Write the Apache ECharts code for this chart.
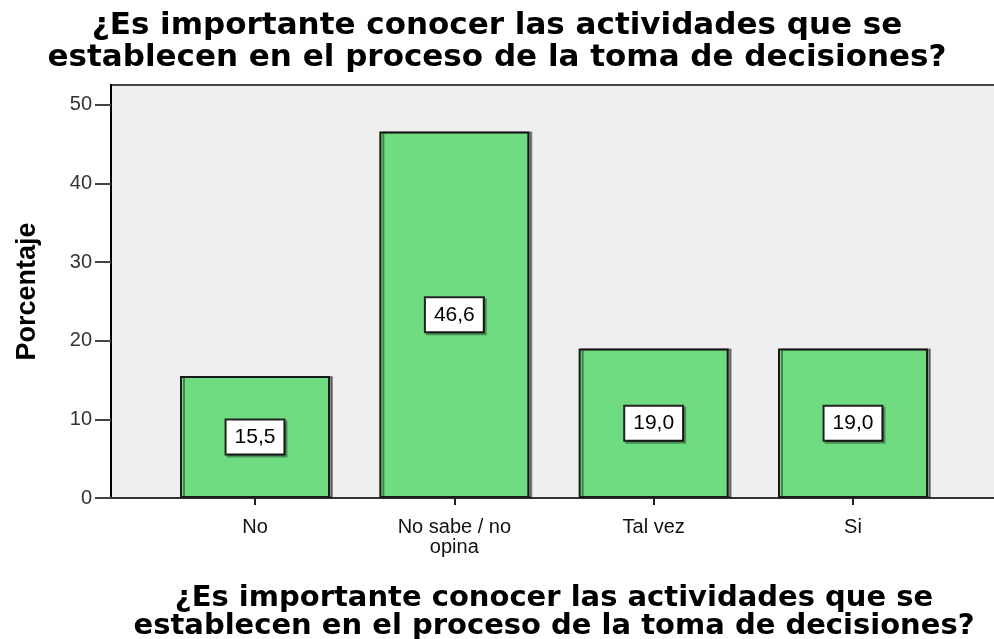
<!DOCTYPE html>
<html>
<head>
<meta charset="utf-8">
<title>Porcentaje</title>
<script src="https://cdn.jsdelivr.net/npm/echarts@6/dist/echarts.min.js"></script>
<style>
	html, body { margin: 0; padding: 0; background: #fff; }
	#barChart { width: 994px; height: 639px; }
</style>
</head>
<body>
<div id="barChart"></div>
<script>
//categorias del eje x
var categorias = ['No', 'No sabe / no opina', 'Tal vez', 'Si'];
//etiquetas del eje x (con salto de linea)
var etiquetasX = ['No', 'No sabe / no\nopina', 'Tal vez', 'Si'];
//porcentajes
var porcentajes = [15.5, 46.6, 19.0, 19.0];
//marcas del eje y
var marcasY = [0, 10, 20, 30, 40, 50];
//posiciones de las categorias
var posicionesX = [0, 1, 2, 3];

var tituloTexto = '¿Es importante conocer las actividades que se\nestablecen en el proceso de la toma de decisiones?';

//formato con coma decimal
function formatoComa(v) {
	return v.toFixed(1).replace('.', ',');
}

var datos = [];
for (var i = 0; i < porcentajes.length; i++) {
	datos.push({ name: categorias[i], value: [posicionesX[i], porcentajes[i]] });
}

var chart = echarts.init(document.getElementById('barChart'));
var option = {
	animation: false,
	title: {
		text: tituloTexto,
		left: 'center',
		top: 5,
		textStyle: {
			fontFamily: 'DejaVu Sans',
			fontWeight: 'bold',
			fontSize: 31,
			lineHeight: 32,
			color: '#000'
		}
	},
	grid: {
		left: 111,
		top: 85,
		right: -3,
		bottom: 141,
		outerBoundsMode: 'none',
		containLabel: false,
		show: true,
		backgroundColor: '#efefef',
		borderColor: '#444',
		borderWidth: 2
	},
	xAxis: {
		type: 'value',
		min: -0.7225,
		max: 3.7225,
		name: tituloTexto,
		nameLocation: 'middle',
		nameGap: 86,
		nameTextStyle: {
			fontFamily: 'DejaVu Sans',
			fontWeight: 'bold',
			fontSize: 29,
			lineHeight: 28,
			color: '#000'
		},
		axisLine: { show: true, onZero: false, lineStyle: { color: '#333', width: 2 } },
		axisTick: {
			show: true,
			customValues: posicionesX,
			length: 7,
			lineStyle: { color: '#222', width: 2 }
		},
		axisLabel: {
			customValues: posicionesX,
			margin: 19,
			fontFamily: 'Liberation Sans',
			fontSize: 20,
			lineHeight: 20,
			color: '#111',
			formatter: function(v) {
				return etiquetasX[Math.round(v)];
			}
		},
		splitLine: { show: false }
	},
	yAxis: {
		type: 'value',
		min: 0,
		max: 52.5,
		interval: 10,
		name: 'Porcentaje',
		nameLocation: 'middle',
		nameGap: 70,
		nameTextStyle: {
			fontFamily: 'Liberation Sans',
			fontWeight: 'bold',
			fontSize: 27,
			color: '#000'
		},
		axisLine: { show: true, onZero: false, lineStyle: { color: '#000', width: 2 } },
		axisTick: {
			show: true,
			customValues: marcasY,
			length: 16,
			lineStyle: { color: '#444', width: 2 }
		},
		axisLabel: {
			customValues: marcasY,
			margin: 19,
			fontFamily: 'Liberation Sans',
			fontSize: 20,
			color: '#333'
		},
		splitLine: { show: false }
	},
	series: [{
		type: 'bar',
		data: datos,
		barWidth: 150,
		itemStyle: {
			color: '#70dc82',
			borderColor: '#1a1a1a',
			borderWidth: 2,
			shadowColor: 'rgba(0,0,0,0.4)',
			shadowOffsetX: 3,
			shadowOffsetY: 0,
			shadowBlur: 0
		},
		label: {
			show: true,
			position: 'inside',
			fontFamily: 'Liberation Sans',
			fontSize: 21,
			color: '#000',
			backgroundColor: '#fff',
			borderColor: '#222',
			borderWidth: 2,
			padding: [7, 8, 5, 8],
			shadowColor: 'rgba(0,0,0,0.35)',
			shadowOffsetX: 2,
			shadowOffsetY: 2,
			shadowBlur: 0,
			formatter: function(p) {
				return formatoComa(p.value[1]);
			}
		}
	}]
};
chart.setOption(option);
</script>
</body>
</html>
